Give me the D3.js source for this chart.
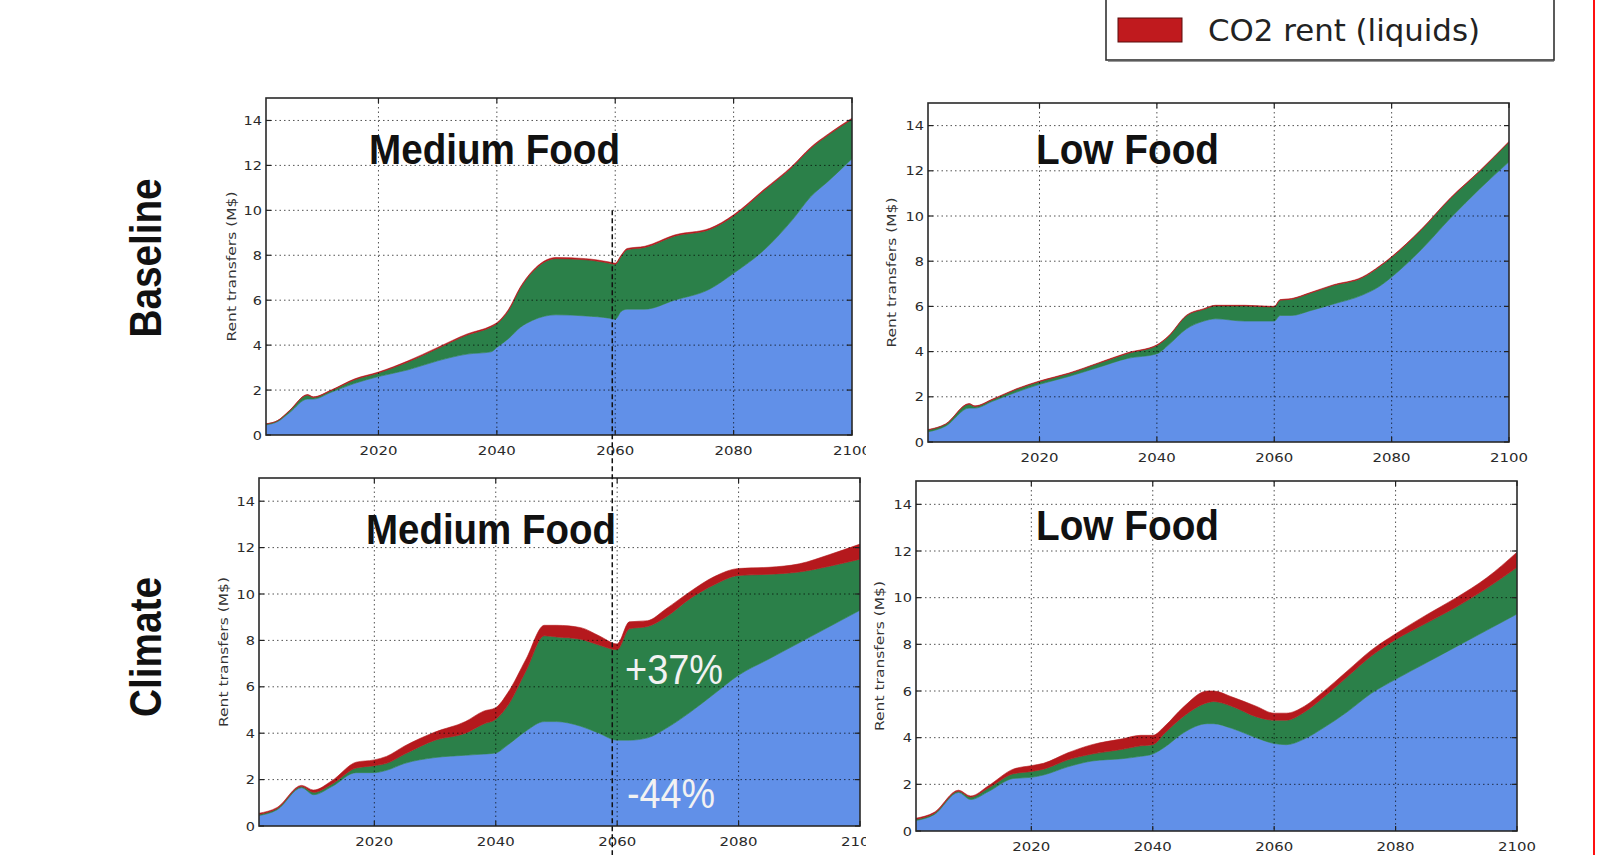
<!DOCTYPE html>
<html>
<head>
<meta charset="utf-8">
<script src="https://cdn.jsdelivr.net/npm/d3@7"></script>
<style>
  html, body { margin: 0; padding: 0; background: #fff; }
  svg { display: block; }
</style>
</head>
<body>
<svg id="chart" width="1606" height="855"></svg>
<script>
// ---- Rent transfers (M$), stacked: land rent (blue), food rent (green), CO2 rent on liquids (red)

// Baseline, Medium Food
const yearsBaseMed = [2001,2003,2005,2008,2009,2012,2016,2020,2025,2030,2035,2039,2040,2042,2044,2046,2050,2055,2059,2060,2061,2062,2065,2070,2076,2080,2085,2090,2093,2096,2100];
const blueBaseMed  = [0.45,0.6,1.0,1.6,1.6,1.9,2.3,2.6,2.9,3.3,3.6,3.7,3.9,4.3,4.8,5.1,5.35,5.3,5.2,5.15,5.5,5.6,5.6,6.0,6.5,7.2,8.2,9.6,10.6,11.3,12.3];
const greenBaseMed = [0.04,0.04,0.08,0.17,0.07,0.07,0.16,0.16,0.35,0.55,0.85,1.1,1.05,1.25,1.75,2.15,2.5,2.5,2.45,2.45,2.45,2.65,2.75,2.85,2.65,2.55,2.65,2.35,2.15,2.05,1.75];
const redBaseMed   = [0.01,0.01,0.02,0.03,0.03,0.03,0.04,0.04,0.05,0.05,0.05,0.05,0.05,0.05,0.05,0.05,0.05,0.05,0.05,0.05,0.05,0.05,0.05,0.05,0.05,0.05,0.05,0.05,0.05,0.05,0.05];

// Baseline, Low Food
const yearsBaseLow = [2001,2004,2008,2009,2012,2016,2020,2025,2030,2035,2040,2042,2045,2048,2050,2055,2060,2061,2063,2066,2070,2075,2078,2080,2085,2090,2095,2100];
const blueBaseLow  = [0.45,0.7,1.5,1.5,1.8,2.2,2.55,2.9,3.3,3.7,3.9,4.3,5.0,5.35,5.45,5.35,5.35,5.6,5.6,5.8,6.1,6.5,6.9,7.3,8.5,9.9,11.2,12.4];
const greenBaseLow = [0.08,0.08,0.17,0.07,0.07,0.12,0.12,0.12,0.17,0.22,0.37,0.37,0.57,0.52,0.57,0.67,0.62,0.67,0.72,0.77,0.82,0.77,0.87,0.87,0.87,0.87,0.77,0.87];
const redBaseLow   = [0.02,0.02,0.03,0.03,0.03,0.03,0.03,0.03,0.03,0.03,0.03,0.03,0.03,0.03,0.03,0.03,0.03,0.03,0.03,0.03,0.03,0.03,0.03,0.03,0.03,0.03,0.03,0.03];

// Climate, Medium Food
const yearsClimMed = [2001,2004,2008,2010,2013,2017,2020,2022,2025,2030,2035,2038,2040,2042,2045,2048,2050,2054,2057,2060,2062,2065,2068,2072,2076,2080,2085,2090,2095,2100];
const blueClimMed  = [0.45,0.7,1.65,1.35,1.7,2.3,2.3,2.4,2.7,2.95,3.05,3.1,3.15,3.5,4.1,4.5,4.5,4.3,4.0,3.7,3.7,3.8,4.2,4.9,5.7,6.5,7.2,7.9,8.6,9.3];
const greenClimMed = [0.05,0.05,0.05,0.1,0.1,0.2,0.3,0.3,0.4,0.75,0.95,1.3,1.45,1.7,2.6,3.7,3.65,3.75,3.8,3.9,4.8,4.8,4.8,4.9,4.7,4.3,3.65,3.05,2.6,2.2];
const redClimMed   = [0.05,0.05,0.05,0.1,0.15,0.25,0.25,0.3,0.35,0.35,0.5,0.55,0.5,0.55,0.5,0.45,0.5,0.5,0.4,0.25,0.3,0.25,0.35,0.3,0.35,0.3,0.3,0.35,0.5,0.65];

// Climate, Low Food
const yearsClimLow = [2001,2004,2008,2010,2013,2017,2020,2022,2026,2030,2035,2038,2040,2042,2045,2049,2050,2053,2057,2060,2062,2065,2068,2072,2076,2080,2085,2090,2095,2100];
const blueClimLow  = [0.45,0.7,1.65,1.35,1.7,2.25,2.3,2.4,2.75,3.0,3.1,3.2,3.3,3.6,4.2,4.6,4.6,4.4,4.0,3.75,3.7,3.95,4.4,5.1,5.9,6.5,7.2,7.9,8.6,9.3];
const greenClimLow = [0.05,0.05,0.05,0.1,0.15,0.2,0.25,0.25,0.3,0.3,0.4,0.45,0.4,0.6,0.7,0.9,0.95,0.95,0.9,1.0,1.05,1.15,1.3,1.5,1.6,1.7,1.7,1.7,1.8,2.0];
const redClimLow   = [0.05,0.05,0.05,0.05,0.1,0.2,0.25,0.25,0.3,0.4,0.45,0.45,0.4,0.3,0.4,0.5,0.45,0.4,0.45,0.3,0.3,0.25,0.25,0.25,0.25,0.25,0.35,0.4,0.45,0.65];

// Axes
const yTicks = [0, 2, 4, 6, 8, 10, 12, 14];
const xTicks = [2020, 2040, 2060, 2080, 2100];
const yDomain = [0, 15];
const xDomain = [2001, 2100];

const rowLabels = ["Baseline", "Climate"];
const panelTitles = ["Medium Food", "Low Food", "Medium Food", "Low Food"];
const yAxisTitle = "Rent transfers (M$)";
const legendLabel = "CO2 rent (liquids)";
const shareLabels = ["+37%", "-44%"];
const markerYear = 2059.5;
const markerTop = 10;

const layerKeys = ["blue", "green", "red"];
const layerColors = { blue: "#6190e8", green: "#2b8049", red: "#b5191d" };

const panels = [
  { years: yearsBaseMed, blue: blueBaseMed, green: greenBaseMed, red: redBaseMed, title: panelTitles[0],
    box: { x0: 266, x1: 852, y0: 98, y1: 435 }, titlePos: [369, 164, 251], ylab: 236, clip: 866 },
  { years: yearsBaseLow, blue: blueBaseLow, green: greenBaseLow, red: redBaseLow, title: panelTitles[1],
    box: { x0: 928, x1: 1509, y0: 103, y1: 442 }, titlePos: [1036, 164, 183], ylab: 896, clip: null },
  { years: yearsClimMed, blue: blueClimMed, green: greenClimMed, red: redClimMed, title: panelTitles[2],
    box: { x0: 259, x1: 860, y0: 478, y1: 826 }, titlePos: [366, 544, 250], ylab: 228, clip: 866 },
  { years: yearsClimLow, blue: blueClimLow, green: greenClimLow, red: redClimLow, title: panelTitles[3],
    box: { x0: 916, x1: 1517, y0: 481, y1: 831 }, titlePos: [1036, 540, 183], ylab: 884, clip: null }
];

const svg = d3.select("#chart");
const defs = svg.append("defs");

const stack = d3.stack().keys(layerKeys);

panels.forEach((p, i) => {
  const b = p.box;
  const x = d3.scaleLinear().domain(xDomain).range([b.x0, b.x1]);
  const y = d3.scaleLinear().domain(yDomain).range([b.y1, b.y0]);
  p.x = x; p.y = y;

  const rows = p.years.map((yr, k) => ({ year: yr, blue: p.blue[k], green: p.green[k], red: p.red[k] }));
  const series = stack(rows);

  const g = svg.append("g");
  if (p.clip) {
    defs.append("clipPath").attr("id", "panelclip" + i)
      .append("rect").attr("x", 0).attr("y", b.y0 - 60).attr("width", p.clip).attr("height", b.y1 - b.y0 + 120);
    g.attr("clip-path", "url(#panelclip" + i + ")");
  }

  defs.append("clipPath").attr("id", "plotclip" + i)
    .append("rect").attr("x", b.x0).attr("y", b.y0).attr("width", b.x1 - b.x0).attr("height", b.y1 - b.y0);

  const area = d3.area()
    .curve(d3.curveMonotoneX)
    .x(d => x(d.data.year))
    .y0(d => y(d[0]))
    .y1(d => y(d[1]));

  g.append("g").attr("clip-path", "url(#plotclip" + i + ")")
    .selectAll("path").data(series).join("path")
    .attr("d", area)
    .attr("fill", d => layerColors[d.key])
    .attr("stroke", d => layerColors[d.key])
    .attr("stroke-width", 0.6);

  // dotted grid on top of the fills
  const grid = g.append("g").attr("stroke", "#000").attr("stroke-width", 0.9)
    .attr("stroke-dasharray", "1.5,3").attr("opacity", 0.75);
  grid.selectAll("line.h").data(yTicks.filter(t => t > 0)).join("line")
    .attr("x1", b.x0).attr("x2", b.x1).attr("y1", d => y(d)).attr("y2", d => y(d));
  grid.selectAll("line.v").data(xTicks.filter(t => t < 2100)).join("line")
    .attr("y1", b.y0).attr("y2", b.y1).attr("x1", d => x(d)).attr("x2", d => x(d));

  // frame
  g.append("rect").attr("x", b.x0).attr("y", b.y0).attr("width", b.x1 - b.x0).attr("height", b.y1 - b.y0)
    .attr("fill", "none").attr("stroke", "#2a2a2a").attr("stroke-width", 1.6);

  // inward ticks on all four sides
  const ticks = g.append("g").attr("stroke", "#222").attr("stroke-width", 1.2);
  yTicks.forEach(t => {
    ticks.append("line").attr("x1", b.x0).attr("x2", b.x0 + 5).attr("y1", y(t)).attr("y2", y(t));
    ticks.append("line").attr("x1", b.x1).attr("x2", b.x1 - 5).attr("y1", y(t)).attr("y2", y(t));
  });
  xTicks.forEach(t => {
    ticks.append("line").attr("y1", b.y1).attr("y2", b.y1 - 5).attr("x1", x(t)).attr("x2", x(t));
    ticks.append("line").attr("y1", b.y0).attr("y2", b.y0 + 5).attr("x1", x(t)).attr("x2", x(t));
  });

  // tick labels
  g.append("g").selectAll("text").data(yTicks).join("text")
    .attr("x", b.x0 - 4).attr("y", d => y(d)).attr("dy", "0.36em")
    .attr("text-anchor", "end").attr("font-family", "DejaVu Sans").attr("font-size", 13)
    .attr("textLength", d => String(d).length * 9.2).attr("lengthAdjust", "spacingAndGlyphs")
    .attr("fill", "#2a2a2a").text(d => d);
  g.append("g").selectAll("text").data(xTicks).join("text")
    .attr("x", d => x(d)).attr("y", b.y1 + 20)
    .attr("text-anchor", "middle").attr("font-family", "DejaVu Sans").attr("font-size", 13)
    .attr("textLength", 38).attr("lengthAdjust", "spacingAndGlyphs")
    .attr("fill", "#2a2a2a").text(d => d);

  // axis title
  g.append("text")
    .attr("transform", `translate(${p.ylab},${(b.y0 + b.y1) / 2}) rotate(-90)`)
    .attr("text-anchor", "middle").attr("font-family", "DejaVu Sans").attr("font-size", 12.5)
    .attr("textLength", 150).attr("lengthAdjust", "spacingAndGlyphs")
    .attr("fill", "#333").text(yAxisTitle);

  // panel title
  g.append("text")
    .attr("x", p.titlePos[0]).attr("y", p.titlePos[1])
    .attr("font-family", "Liberation Sans, Arial, sans-serif").attr("font-weight", "bold")
    .attr("font-size", 42).attr("textLength", p.titlePos[2]).attr("lengthAdjust", "spacingAndGlyphs")
    .attr("fill", "#111").text(p.title);
});

// share annotations on the climate / medium food panel
svg.append("text").attr("x", 625).attr("y", 684)
  .attr("font-family", "Liberation Sans, Arial, sans-serif").attr("font-size", 42)
  .attr("textLength", 98).attr("lengthAdjust", "spacingAndGlyphs")
  .attr("fill", "#f2f2f2").text(shareLabels[0]);
svg.append("text").attr("x", 627).attr("y", 808)
  .attr("font-family", "Liberation Sans, Arial, sans-serif").attr("font-size", 42)
  .attr("textLength", 88).attr("lengthAdjust", "spacingAndGlyphs")
  .attr("fill", "#f2f2f2").text(shareLabels[1]);

// 2060 marker running through both medium food panels
const pt = panels[0];
svg.append("line")
  .attr("x1", pt.x(markerYear)).attr("x2", pt.x(markerYear))
  .attr("y1", pt.y(markerTop)).attr("y2", 855)
  .attr("stroke", "#111").attr("stroke-width", 1.5).attr("stroke-dasharray", "5,3");

// row labels
const rowCenters = [258, 647];
rowLabels.forEach((lab, i) => {
  svg.append("text")
    .attr("transform", `translate(161,${rowCenters[i]}) rotate(-90)`)
    .attr("text-anchor", "middle")
    .attr("font-family", "Liberation Sans, Arial, sans-serif").attr("font-weight", "bold")
    .attr("font-size", 44).attr("textLength", i === 0 ? 159 : 140).attr("lengthAdjust", "spacingAndGlyphs")
    .attr("fill", "#111").text(lab);
});

// legend (upper part runs off the top)
const lg = svg.append("g");
lg.append("rect").attr("x", 1106).attr("y", -60).attr("width", 448).attr("height", 120)
  .attr("fill", "#fff").attr("stroke", "#333").attr("stroke-width", 1.6);
lg.append("line").attr("x1", 1108).attr("x2", 1554).attr("y1", 61.5).attr("y2", 61.5)
  .attr("stroke", "#999").attr("stroke-width", 1.2);
lg.append("rect").attr("x", 1118).attr("y", 18).attr("width", 64).attr("height", 24)
  .attr("fill", "#c01a1e").attr("stroke", "#5a0d0d").attr("stroke-width", 1);
lg.append("text").attr("x", 1208).attr("y", 41)
  .attr("font-family", "DejaVu Sans").attr("font-size", 30)
  .attr("textLength", 272).attr("lengthAdjust", "spacingAndGlyphs")
  .attr("fill", "#222").text(legendLabel);

// red frame edge on the right
svg.append("line").attr("x1", 1594).attr("x2", 1594).attr("y1", 0).attr("y2", 855)
  .attr("stroke", "#ff1010").attr("stroke-width", 2);
</script>
</body>
</html>
